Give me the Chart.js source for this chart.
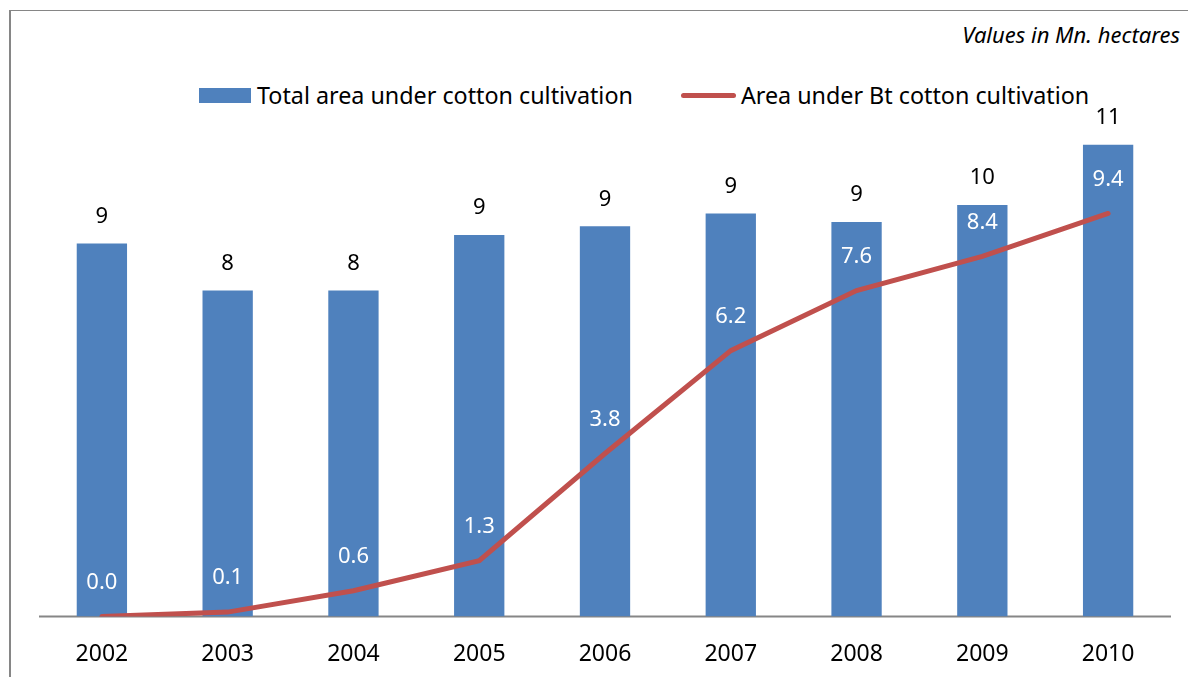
<!DOCTYPE html>
<html>
<head>
<meta charset="utf-8">
<script src="https://cdn.jsdelivr.net/npm/chart.js@4.4.1/dist/chart.umd.min.js"></script>
<style>
  html, body { margin: 0; padding: 0; background: #fff; overflow: hidden; }
  body { width: 1188px; height: 677px; position: relative; font-family: "Noto Sans", sans-serif; }
  #frame { position: absolute; left: 9px; top: 10px; width: 1300px; height: 800px;
           border-left: 2px solid #868686; border-top: 1px solid #868686; }
  #unit { position: absolute; right: 8px; top: 19px; font-style: italic; font-size: 22px; color: #000; }
  #legend { position: absolute; top: 79px; left: 199px; display: flex; align-items: center; font-size: 23.3px; }
  .item { display: flex; align-items: center; margin-right: 48px; }
  .swatch-bar { width: 52px; height: 15px; margin-right: 6px; }
  .swatch-line { width: 55px; height: 5px; border-radius: 3px; margin-right: 5px; }
  #wrap { position: absolute; left: 0; top: 0; width: 1188px; height: 692px; }
</style>
</head>
<body>
<div id="frame"></div>
<div id="unit">Values in Mn. hectares</div>
<div id="legend"></div>
<div id="wrap"><canvas id="cottonChart"></canvas></div>
<script>
const years = ['2002', '2003', '2004', '2005', '2006', '2007', '2008', '2009', '2010'];
const totalArea = [8.7, 7.6, 7.6, 8.9, 9.1, 9.4, 9.2, 9.6, 11.0];
const btArea = [0.0, 0.1, 0.6, 1.3, 3.8, 6.2, 7.6, 8.4, 9.4];

const BLUE = '#4F81BD';
const RED = '#C0504D';
const FONT = '"Noto Sans", sans-serif';

// category axis line, drawn under the series
const baseLine = {
    id: 'baseLine',
    beforeDatasetsDraw(chart) {
        const { ctx, chartArea } = chart;
        ctx.save();
        ctx.strokeStyle = '#868686';
        ctx.lineWidth = 2;
        ctx.beginPath();
        ctx.moveTo(chartArea.left, chartArea.bottom);
        ctx.lineTo(chartArea.right, chartArea.bottom);
        ctx.stroke();
        ctx.restore();
    }
};

// value labels: black above bars, white above line points
const valueLabels = {
    id: 'valueLabels',
    afterDatasetsDraw(chart) {
        const ctx = chart.ctx;
        ctx.save();
        ctx.font = '22px ' + FONT;
        ctx.textAlign = 'center';
        ctx.textBaseline = 'middle';

        const bars = chart.getDatasetMeta(1).data;
        bars.forEach((bar, i) => {
            ctx.fillStyle = '#000';
            ctx.fillText(totalArea[i].toFixed(0), bar.x, bar.y - 27);
        });

        const pts = chart.getDatasetMeta(0).data;
        pts.forEach((pt, i) => {
            ctx.fillStyle = '#fff';
            ctx.fillText(btArea[i].toFixed(1), pt.x, pt.y - 34);
        });
        ctx.restore();
    }
};

const chart = new Chart(document.getElementById('cottonChart'), {
    data: {
        labels: years,
        datasets: [
            {
                type: 'line',
                label: 'Area under Bt cotton cultivation',
                data: btArea,
                borderColor: RED,
                backgroundColor: RED,
                borderWidth: 5,
                pointRadius: 0,
                tension: 0,
                borderCapStyle: 'round',
                order: 0
            },
            {
                type: 'bar',
                label: 'Total area under cotton cultivation',
                data: totalArea,
                backgroundColor: BLUE,
                borderWidth: 0,
                barPercentage: 0.4,
                categoryPercentage: 1.0,
                order: 1
            }
        ]
    },
    options: {
        responsive: true,
        maintainAspectRatio: false,
        animation: false,
        layout: { padding: { top: 102, left: 39, right: 17, bottom: 0 } },
        plugins: {
            legend: { display: false },
            tooltip: { enabled: false }
        },
        scales: {
            x: {
                grid: { display: false, drawTicks: false },
                border: { display: false },
                ticks: { color: '#000', font: { family: FONT, size: 23 }, padding: 24 }
            },
            y: {
                display: false,
                min: 0,
                max: 12
            }
        }
    },
    plugins: [baseLine, valueLabels]
});

// legend built from the dataset labels
const legend = document.getElementById('legend');
[chart.data.datasets[1], chart.data.datasets[0]].forEach(ds => {
    const item = document.createElement('div');
    item.className = 'item';
    const sw = document.createElement('span');
    sw.className = ds.type === 'bar' ? 'swatch-bar' : 'swatch-line';
    sw.style.background = ds.backgroundColor;
    item.appendChild(sw);
    const txt = document.createElement('span');
    txt.textContent = ds.label;
    item.appendChild(txt);
    legend.appendChild(item);
});
</script>
</body>
</html>
